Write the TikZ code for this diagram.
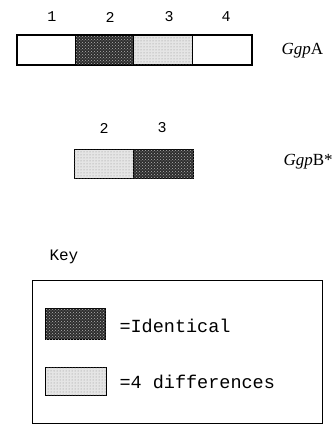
\documentclass[tikz,border=0pt]{standalone}
\usepackage{fontspec}
\setmainfont{Liberation Serif}
\setmonofont{Liberation Mono}
\usetikzlibrary{patterns}
\begin{document}
\begin{tikzpicture}[x=1pt,y=-1pt,
  seg/.style={draw=black,line width=1.3pt,minimum height=29pt,inner sep=0pt,anchor=north west},
  plain/.style={seg,fill=white},
  same/.style={seg,fill=black!82,postaction={pattern=crosshatch dots,pattern color=white!70!black}},
  diff/.style={seg,fill=black!10,postaction={pattern=dots,pattern color=black!45}},
  num/.style={font=\ttfamily\fontsize{15}{15}\selectfont},
  gene/.style={font=\fontsize{17}{17}\selectfont,anchor=west},
  keytext/.style={font=\ttfamily\fontsize{18.5}{18.5}\selectfont,anchor=west}]
\useasboundingbox (0,0) rectangle (336,425);

% GgpA: four domains
\node[plain,minimum width=58pt] (a1) at (17,35) {};
\node[same,minimum width=58pt] (a2) at (75,35) {};
\node[diff,minimum width=59pt] (a3) at (133,35) {};
\node[plain,minimum width=59pt] (a4) at (192,35) {};
\draw[line width=1.3pt] (a1.north west) rectangle (a4.south east);
\node[num] (n1) at (52,17) {1};
\node[num] (n2) at (110,17) {2};
\node[num] (n3) at (169,17) {3};
\node[num] (n4) at (226,17) {4};
\node[gene] (ga) at (278,51) {\textit{Ggp}A};

% GgpB*: domains 2 and 3
\node[diff,minimum width=59pt] (b2) at (74,149) {};
\node[same,minimum width=60pt] (b3) at (133,149) {};
\node[num] (m2) at (104,128) {2};
\node[num] (m3) at (162,128) {3};
\node[gene] (gb) at (280,162) {\textit{Ggp}B*};

% Key
\node[font=\ttfamily\fontsize{16}{16}\selectfont,anchor=west] (key) at (46,257) {Key};
\node[draw=black,line width=1.3pt,minimum width=290pt,minimum height=143pt,inner sep=0pt,anchor=north west] (keybox) at (32,280) {};
\node[same,minimum width=60pt,minimum height=31pt] (k1) at (45,308) {};
\node[diff,minimum width=61pt,minimum height=28pt] (k2) at (45,367) {};
\node[keytext] (t1) at (116,326) {=Identical};
\node[keytext] (t2) at (116,382) {=4 differences};
\end{tikzpicture}
\end{document}
